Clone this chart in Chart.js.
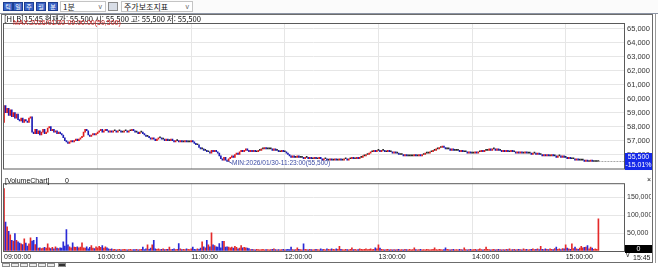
<!DOCTYPE html>
<html lang="ko">
<head>
<meta charset="utf-8">
<title>HLB 1분</title>
<script src="https://cdn.jsdelivr.net/npm/chart.js@4.4.1/dist/chart.umd.min.js"></script>
<style>
  html, body { margin: 0; padding: 0; }
  body { width: 658px; height: 267px; position: relative; overflow: hidden; background: #fff;
         font-family: "Liberation Sans", Arial, sans-serif; }
  .abs { position: absolute; }
  #toolbar { left: 0; top: 0; width: 658px; height: 13px; background: #fbfbfb; border-bottom: 1px solid #8c94a4; }
  .tbtn { position: absolute; top: 2px; width: 10px; height: 9px; background: #3a62c6; border: 1px solid #1d3d8f;
          color: #fff; font: 6px/7px "Noto Sans CJK KR", sans-serif; text-align: center; box-sizing: border-box; }
  .combo { position: absolute; top: 1px; height: 11px; border: 1px solid #c4c4c4; background: #fff;
           font: 8px/9px "Noto Sans CJK KR", sans-serif; padding-left: 2px; box-sizing: border-box; color: #222; }
  .combo .arrow { position: absolute; right: 3px; top: 0; font: 7px/9px "Liberation Sans", sans-serif; color: #666; }
  .icon { position: absolute; top: 2px; width: 10px; height: 9px; border: 1px solid #8a8a8a; background: #d8dde6; box-sizing: border-box; }
  #frame { left: 1px; top: 14px; width: 652px; height: 249px; border: 1px solid #6c6c6c; box-sizing: border-box; }
  #edge { left: 655px; top: 14px; width: 2px; height: 249px; border-left: 1px solid #9a9a9a; border-right: 1px solid #9a9a9a; }
  #price-chart { left: 0; top: 14px; }
  #volume-chart { left: 0; top: 176px; }
  .sbtn { position: absolute; top: 263px; width: 8px; height: 4px; border: 1px solid #8a8a8a; background: #eee; box-sizing: border-box; }
</style>
</head>
<body>
<div id="toolbar" class="abs">
  <div class="tbtn" style="left:3px">틱</div>
  <div class="tbtn" style="left:13px">일</div>
  <div class="tbtn" style="left:24px">주</div>
  <div class="tbtn" style="left:36px">월</div>
  <div class="tbtn" style="left:48px">분</div>
  <div class="combo" style="left:60px;width:46px">1분<span class="arrow">v</span></div>
  <div class="icon" style="left:108px"></div>
  <div class="combo" style="left:121px;width:72px">주가보조지표<span class="arrow">v</span></div>
</div>
<div id="frame" class="abs"></div>
<div id="edge" class="abs"></div>
<canvas id="price-chart" class="abs" width="658" height="162"></canvas>
<canvas id="volume-chart" class="abs" width="658" height="88"></canvas>
<div class="sbtn" style="left:2px"></div>
<div class="sbtn" style="left:11px"></div>
<div class="sbtn" style="left:20px"></div>
<div class="sbtn" style="left:29px"></div>
<div class="sbtn" style="left:38px"></div>
<div class="sbtn" style="left:47px"></div>
<div class="sbtn" style="left:58px;background:#333"></div>
<script>
(function () {
    "use strict";

    // ---- data (one entry per 1-minute bar, 09:00 .. 15:20, then the 15:30 close) ----
    const stockName = 'HLB';
    const tradeDate = '2026/01/30';
    const nowTime = '15:45';
    const prevClose = 65300;
    const firstOpen = 58300;
    const currentVolume = 0;

    const closes = [
        59500, 59000, 59300, 58800, 59200, 58700, 59000, 58600, 58900, 58500,
        58400, 58600, 58300, 58500, 58400, 58300, 58600, 58700, 57600, 57500,
        57800, 57500, 57700, 57400, 57600, 57800, 57500, 57600, 57900, 58000,
        57700, 57800, 57600, 57700, 57500, 57600, 57500, 57400, 57200, 57000,
        56900, 56800, 56900, 57000, 56900, 57000, 57100, 57000, 57100, 57200,
        57300, 57600, 57800, 57700, 57400, 57300, 57400, 57500, 57400, 57500,
        57600, 57700, 57800, 57600, 57700, 57800, 57700, 57600, 57700, 57600,
        57700, 57700, 57600, 57700, 57700, 57600, 57600, 57700, 57700, 57600,
        57700, 57700, 57800, 57700, 57600, 57600, 57500, 57600, 57600, 57500,
        57400, 57300, 57300, 57200, 57100, 57200, 57100, 57000, 57100, 57200,
        57200, 57100, 57100, 57000, 57100, 57000, 57000, 57100, 57000, 56900,
        57000, 57000, 56900, 57000, 56900, 56900, 57000, 56900, 56900, 56900,
        57000, 56900, 56800, 56700, 56700, 56500, 56400, 56400, 56300, 56300,
        56200, 56200, 56100, 56300, 56200, 56300, 56200, 56100, 55900, 55700,
        55600, 55800, 55600, 55500, 55700, 55800, 55900, 55800, 56000, 56100,
        56000, 56200, 56300, 56200, 56300, 56400, 56300, 56200, 56300, 56200,
        56300, 56200, 56200, 56300, 56300, 56400, 56400, 56500, 56400, 56400,
        56400, 56400, 56300, 56400, 56300, 56300, 56200, 56200, 56300, 56200,
        56200, 56100, 56000, 55900, 55800, 55900, 55800, 55800, 55900, 55800,
        55800, 55800, 55700, 55800, 55800, 55700, 55800, 55700, 55700, 55800,
        55700, 55700, 55800, 55700, 55600, 55700, 55700, 55600, 55600, 55700,
        55600, 55600, 55700, 55600, 55600, 55700, 55600, 55600, 55700, 55700,
        55600, 55700, 55700, 55800, 55700, 55700, 55800, 55700, 55800, 55800,
        55900, 55900, 56000, 56000, 56100, 56200, 56200, 56300, 56200, 56300,
        56300, 56200, 56300, 56300, 56200, 56200, 56300, 56200, 56200, 56100,
        56200, 56100, 56100, 56000, 56000, 56000, 55900, 56000, 55900, 55900,
        55900, 55900, 55900, 56000, 55900, 55900, 56000, 55900, 56000, 56000,
        56100, 56100, 56100, 56200, 56200, 56300, 56300, 56400, 56400, 56500,
        56500, 56600, 56500, 56400, 56400, 56400, 56300, 56400, 56300, 56300,
        56300, 56300, 56200, 56300, 56200, 56200, 56200, 56100, 56200, 56100,
        56100, 56100, 56200, 56100, 56200, 56200, 56300, 56200, 56300, 56300,
        56300, 56400, 56300, 56400, 56400, 56300, 56400, 56300, 56300, 56200,
        56300, 56200, 56300, 56200, 56200, 56300, 56200, 56200, 56100, 56200,
        56100, 56200, 56100, 56100, 56200, 56100, 56100, 56100, 56000, 56100,
        56100, 56000, 56100, 56000, 56000, 55900, 56000, 55900, 56000, 55900,
        55900, 56000, 55900, 55900, 55800, 55900, 55900, 55800, 55900, 55800,
        55800, 55700, 55800, 55700, 55700, 55700, 55600, 55700, 55600, 55600,
        55600, 55600, 55500, 55600, 55500, 55500, 55600, 55500, 55500, 55500,
        55500, 55500
    ];

    // volume per bar, thousand shares
    const volumesK = [
        175, 81, 68, 55, 45, 30, 28, 49, 30, 26,
        22, 20, 18, 34, 22, 14, 20, 37, 28, 30,
        18, 38, 8, 9, 7, 8, 10, 8, 20, 9,
        7, 10, 6, 12, 8, 7, 9, 8, 26, 14,
        60, 17, 12, 9, 23, 11, 10, 12, 9, 11,
        23, 9, 8, 12, 6, 10, 15, 8, 7, 12,
        9, 13, 10, 15, 8, 12, 9, 6, 5, 6,
        4, 5, 3, 4, 5, 3, 4, 5, 4, 3,
        4, 5, 3, 4, 4, 5, 3, 4, 5, 11,
        4, 6, 17, 5, 8, 17, 30, 6, 5, 6,
        4, 5, 6, 4, 5, 5, 11, 4, 5, 6,
        4, 5, 21, 6, 4, 5, 4, 6, 5, 4,
        6, 11, 5, 4, 6, 5, 8, 26, 12, 9,
        30, 17, 12, 51, 17, 15, 12, 11, 21, 9,
        27, 27, 11, 12, 11, 9, 11, 8, 13, 10,
        6, 8, 15, 9, 10, 9, 8, 7, 4, 5,
        4, 3, 5, 4, 3, 4, 5, 3, 4, 4,
        3, 4, 5, 6, 4, 3, 4, 3, 4, 5,
        3, 4, 5, 4, 11, 4, 3, 4, 9, 5,
        4, 3, 20, 5, 4, 3, 5, 4, 3, 4,
        5, 4, 3, 6, 4, 5, 3, 6, 5, 4,
        6, 5, 4, 6, 5, 13, 5, 4, 3, 5,
        4, 3, 5, 9, 4, 5, 3, 4, 6, 5,
        4, 5, 6, 4, 5, 6, 4, 5, 9, 6,
        17, 8, 5, 4, 3, 4, 5, 3, 4, 3,
        4, 3, 4, 5, 3, 4, 3, 5, 4, 3,
        5, 3, 4, 9, 4, 3, 4, 5, 3, 4,
        3, 5, 4, 3, 4, 5, 9, 4, 3, 5,
        4, 3, 4, 9, 5, 4, 3, 4, 5, 3,
        4, 3, 5, 4, 3, 9, 4, 3, 4, 5,
        3, 4, 5, 3, 4, 6, 4, 3, 5, 11,
        5, 4, 3, 4, 5, 3, 4, 5, 4, 3,
        4, 3, 5, 4, 6, 3, 4, 5, 3, 4,
        5, 4, 3, 6, 4, 5, 3, 4, 5, 6,
        4, 5, 6, 4, 13, 5, 4, 6, 5, 4,
        6, 5, 4, 7, 11, 5, 6, 4, 7, 6,
        17, 8, 6, 5, 20, 7, 11, 6, 5, 8,
        13, 9, 10, 11, 15, 6, 11, 8, 5, 6,
        5, 90
    ];

    const hourIdx = [0, 60, 120, 180, 240, 300, 360];
    const hourLabels = ['09:00:00', '10:00:00', '11:00:00', '12:00:00', '13:00:00', '14:00:00', '15:00:00'];
    const priceTicks = [56000, 57000, 58000, 59000, 60000, 61000, 62000, 63000, 64000, 65000];
    const volumeTicksK = [0, 50, 100, 150];

    // ---- view settings ----
    const X_MIN = -0.64, X_MAX = 397.4;
    const UP = '#e01c1c', DOWN = '#1c1cb4', FLAT = '#2a2a2a';
    const VOL_UP = '#e42a2a', VOL_DOWN = '#2a2ad6';
    const GRID = '#e6e6e6';
    const fmt = v => v.toLocaleString('en-US');

    const opens = closes.map((c, i) => (i === 0 ? firstOpen : closes[i - 1]));
    const candles = closes.map((c, i) => ({ x: i, y: [opens[i], c] }));
    const candleColors = closes.map((c, i) => (c > opens[i] ? UP : c < opens[i] ? DOWN : FLAT));
    const volumeColors = closes.map((c, i) => (c >= opens[i] ? VOL_UP : VOL_DOWN));
    const last = closes[closes.length - 1];

    function barTime(i) {
        let m = i <= 380 ? 540 + i : 930;
        return String(Math.floor(m / 60)).padStart(2, '0') + ':' + String(m % 60).padStart(2, '0') + ':00';
    }

    const maxIdx = closes.indexOf(Math.max(...closes));
    const minIdx = closes.indexOf(Math.min(...closes));
    const headerText = '[' + stockName + ']' + nowTime + ' 현재가: ' + fmt(last) + ' 시: ' + fmt(last) +
        ' 고: ' + fmt(last) + ' 저: ' + fmt(last);
    const maxText = 'MAX:' + tradeDate + '-' + barTime(maxIdx) + '(' + fmt(closes[maxIdx]) + ')';
    const minText = 'MIN:' + tradeDate + '-' + barTime(minIdx) + '(' + fmt(closes[minIdx]) + ')';
    const changePct = ((last - prevClose) / prevClose * 100).toFixed(2) + '%';

    /**
     * Border round the plot area
     */
    const framePlugin = {
        id: 'frame',
        afterDraw(chart) {
            const { ctx, chartArea: a } = chart;
            ctx.save();
            ctx.strokeStyle = '#5a5a5a';
            ctx.lineWidth = 1;
            ctx.strokeRect(a.left + 0.5, a.top + 0.5, a.right - a.left, a.bottom - a.top);
            ctx.restore();
        }
    };

    const priceNotes = {
        id: 'priceNotes',
        afterDraw(chart) {
            const { ctx, chartArea: a, scales: { x, y } } = chart;
            ctx.save();
            ctx.textBaseline = 'middle';
            ctx.font = '8px "Noto Sans CJK KR", sans-serif';
            ctx.fillStyle = '#111';
            ctx.fillText(headerText, 4, 5, 197);

            ctx.font = '7px "Liberation Sans", sans-serif';
            ctx.fillStyle = '#d42020';
            ctx.fillText(maxText, 13, 9.5, 112);

            // min marker
            const px = x.getPixelForValue(minIdx), py = y.getPixelForValue(closes[minIdx]);
            ctx.strokeStyle = '#5060b0';
            ctx.beginPath();
            ctx.moveTo(px, py - 1);
            ctx.lineTo(px + 5, py + 2);
            ctx.stroke();
            ctx.fillStyle = '#3c4ca4';
            ctx.fillText(minText, px + 5, py + 2, 98);

            // current price box
            const ly = y.getPixelForValue(last);
            ctx.fillStyle = '#1428e8';
            ctx.fillRect(a.right + 1, ly - 8.5, 27, 17);
            ctx.fillStyle = '#fff';
            ctx.textAlign = 'center';
            ctx.fillText(fmt(last), a.right + 14.5, ly - 4);
            ctx.fillText(changePct, a.right + 14.5, ly + 4);
            ctx.restore();
        }
    };

    const volumeNotes = {
        id: 'volumeNotes',
        afterDraw(chart) {
            const { ctx, chartArea: a, scales: { y } } = chart;
            ctx.save();
            ctx.textBaseline = 'middle';
            ctx.font = '7px "Liberation Sans", sans-serif';
            ctx.fillStyle = '#111';
            ctx.fillText('[VolumeChart]', 5, 5);
            ctx.fillText(String(currentVolume), 65, 5);
            ctx.fillText('×', a.right + 23, 4);

            const zy = y.getPixelForValue(0);
            ctx.fillStyle = '#000';
            ctx.fillRect(a.right + 1, zy - 6, 27, 8);
            ctx.fillStyle = '#fff';
            ctx.textAlign = 'center';
            ctx.fillText('0', a.right + 14.5, zy - 2);

            ctx.fillStyle = '#222';
            ctx.textAlign = 'left';
            ctx.fillText('v', a.right + 2, 79);
            ctx.fillText(nowTime, a.right + 9, 82);
            ctx.restore();
        }
    };

    function hourAxis(showLabels) {
        return {
            type: 'linear',
            min: X_MIN,
            max: X_MAX,
            offset: false,
            afterBuildTicks: s => { s.ticks = hourIdx.map(v => ({ value: v })); },
            grid: { color: GRID, drawTicks: false, offset: false },
            border: { display: false },
            ticks: {
                display: showLabels,
                align: 'start',
                maxRotation: 0,
                autoSkip: false,
                padding: 2,
                color: '#222',
                font: { size: 7, family: '"Liberation Sans", sans-serif' },
                callback: v => hourLabels[hourIdx.indexOf(v)] || ''
            },
            afterFit: s => { s.height = showLabels ? 12 : 0; }
        };
    }

    new Chart(document.getElementById('price-chart'), {
        type: 'bar',
        data: {
            datasets: [{
                type: 'line',
                data: [{ x: closes.length - 1, y: last }, { x: X_MAX, y: last }],
                borderColor: '#a8a8a8',
                borderWidth: 1,
                borderDash: [2, 1],
                pointRadius: 0
            }, {
                data: candles,
                backgroundColor: candleColors,
                barThickness: 1,
                minBarLength: 1
            }]
        },
        options: {
            responsive: false,
            animation: false,
            layout: { padding: { left: 3, top: 9, right: 7, bottom: 1 } },
            plugins: { legend: { display: false }, tooltip: { enabled: false } },
            scales: {
                x: hourAxis(false),
                y: {
                    position: 'right',
                    min: 55000,
                    max: 65411,
                    afterBuildTicks: s => { s.ticks = priceTicks.map(v => ({ value: v })); },
                    grid: { color: GRID, drawTicks: false },
                    border: { display: false },
                    ticks: { padding: 3, color: '#333', font: { size: 7.5, family: '"Liberation Sans", sans-serif' }, callback: v => fmt(v) },
                    afterFit: s => { s.width = 27; }
                }
            }
        },
        plugins: [framePlugin, priceNotes]
    });

    new Chart(document.getElementById('volume-chart'), {
        type: 'bar',
        data: {
            datasets: [{
                data: volumesK.map((v, i) => ({ x: i, y: v })),
                backgroundColor: volumeColors,
                barThickness: 1
            }]
        },
        options: {
            responsive: false,
            animation: false,
            layout: { padding: { left: 3, top: 1, right: 7, bottom: 1 } },
            plugins: { legend: { display: false }, tooltip: { enabled: false } },
            scales: {
                x: hourAxis(true),
                y: {
                    position: 'right',
                    min: 0,
                    max: 190,
                    afterBuildTicks: s => { s.ticks = volumeTicksK.map(v => ({ value: v })); },
                    grid: { color: GRID, drawTicks: false },
                    border: { display: false },
                    ticks: { padding: 3, color: '#333', font: { size: 7, family: '"Liberation Sans", sans-serif' }, callback: v => (v === 0 ? '' : fmt(v * 1000)) },
                    afterFit: s => { s.width = 27; }
                }
            }
        },
        plugins: [framePlugin, volumeNotes]
    });
})();
</script>
</body>
</html>
